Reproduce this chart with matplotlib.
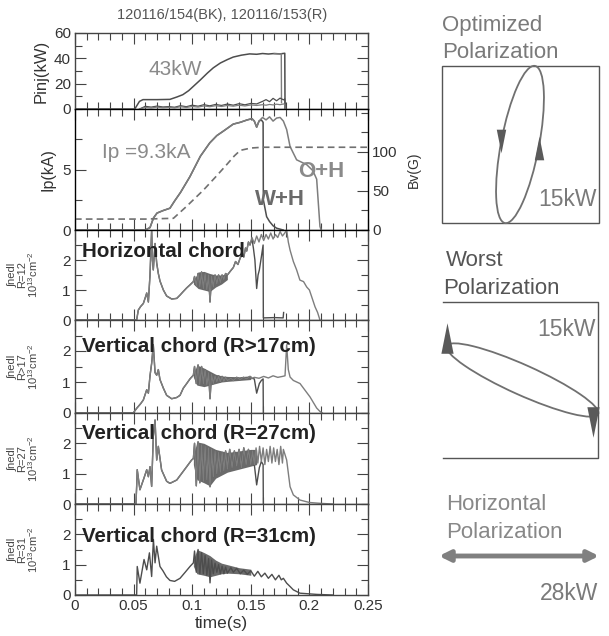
import numpy as np
import matplotlib
matplotlib.use("Agg")
import matplotlib.pyplot as plt
from matplotlib.ticker import MultipleLocator, FuncFormatter
from matplotlib.patches import Ellipse, Rectangle

plt.rcParams['font.family'] = ['Liberation Sans', 'DejaVu Sans']
plt.rcParams['mathtext.fontset'] = 'custom'
plt.rcParams['mathtext.rm'] = 'Liberation Sans'

# ---- data (time in s) ----
# injected power, two shots (BK stops at 0.179, R at 0.176)
pinj_t = [0.0, 0.051, 0.055, 0.058, 0.070, 0.081, 0.087, 0.092, 0.097, 0.101, 0.107,
          0.113, 0.118, 0.124, 0.130, 0.135, 0.142, 0.149, 0.155, 0.160, 0.165, 0.170, 0.175, 0.179, 0.1792]
pinj_bk = [0, 0, 6.0, 7.4, 7.4, 7.6, 9.5, 11.3, 14.5, 17.9, 23.0,
           28.4, 32.5, 36.3, 39.0, 41.0, 42.5, 43.5, 43.2, 43.8, 43.4, 43.8, 43.5, 44.0, 0]
pinj_r_t = [0.170, 0.175, 0.176, 0.1762]
pinj_r = [43.6, 43.4, 43.6, 5.0]
# reflected power (low traces)
refl_t = [0.055, 0.060, 0.065, 0.070, 0.075, 0.080, 0.085, 0.090, 0.095, 0.100, 0.105, 0.110,
          0.115, 0.120, 0.125, 0.130, 0.135, 0.140, 0.145, 0.150, 0.155, 0.160, 0.163, 0.166,
          0.169, 0.172, 0.175, 0.178, 0.179, 0.1795]
refl_bk = [0, 2.1, 1.5, 2.3, 1.6, 1.9, 1.4, 2.6, 1.8, 3.0, 2.2, 3.4,
           2.5, 3.6, 2.8, 3.9, 3.0, 4.2, 3.3, 4.4, 4.0, 6.0, 7.4, 5.8,
           8.4, 6.5, 8.6, 7.2, 8.0, 0]
refl_r = [0, 1.2, 0.8, 1.5, 1.0, 1.3, 0.9, 1.8, 1.2, 2.0, 1.5, 2.4,
          1.8, 2.6, 2.0, 2.8, 2.2, 3.0, 2.4, 3.2, 2.8, 3.4, 3.0, 3.6,
          3.2, 3.8, 3.4, 4.0, 3.5, 0]

# plasma current (kA): common ramp, then W+H and O+H tails
ip_t = [0.0, 0.060, 0.064, 0.067, 0.070, 0.075, 0.081, 0.085, 0.090, 0.098, 0.107, 0.115,
        0.121, 0.127, 0.135, 0.141, 0.147, 0.151, 0.153, 0.155, 0.157]
ip = [0, 0, 0.2, 1.0, 1.4, 1.6, 1.8, 2.4, 3.1, 4.4, 6.1, 7.2,
      7.8, 8.2, 8.75, 8.9, 9.1, 9.2, 9.0, 8.5, 9.0]
ip_wh_t = [0.159, 0.1605, 0.1607, 0.1635, 0.166, 0.169, 0.172, 0.1776]
ip_wh = [9.1, 8.9, 2.5, 1.1, 0.7, 0.35, 0.15, 0]
ip_oh_t = [0.160, 0.163, 0.166, 0.169, 0.172, 0.175, 0.1778, 0.1806, 0.1835, 0.1891,
           0.1977, 0.2030, 0.2062, 0.2090, 0.2100]
ip_oh = [9.3, 9.1, 9.35, 9.0, 9.25, 9.3, 9.0, 8.3, 6.9, 5.8,
         5.4, 4.9, 4.2, 0.3, 0]
# vertical field (G)
bv_t = [0.0, 0.060, 0.084, 0.095, 0.1095, 0.120, 0.129, 0.136, 0.141, 0.150, 0.160, 0.250]
bv = [14, 14, 15, 30, 51, 68, 83, 95, 102, 105, 106, 106]

# line densities (10^13 cm^-2); oscillating stretch sampled every 1.5 ms
osc_t = [0.1020, 0.1035, 0.1050, 0.1065, 0.1080, 0.1095, 0.1110, 0.1125, 0.1140, 0.1152,
         0.1165, 0.1180, 0.1195, 0.1210, 0.1225, 0.1240, 0.1255, 0.1270, 0.1285, 0.1300]

h_t = [0.0, 0.0526, 0.054, 0.056, 0.0583, 0.0600, 0.0612, 0.0626, 0.0640, 0.0654, 0.0661,
       0.0668, 0.0683, 0.0697, 0.0711, 0.0725, 0.0754, 0.0782, 0.0825, 0.0868, 0.0896,
       0.0924, 0.0953, 0.0981, 0.1010] + osc_t + [
       0.1330, 0.1351, 0.1370, 0.1390, 0.1408, 0.1425, 0.1440, 0.1455, 0.1465, 0.1480, 0.1493]
h = [0, 0, 0.33, 0.45, 0.55, 0.75, 0.9, 0.6, 1.5, 3.0, 2.0,
     1.67, 2.55, 1.9, 1.55, 1.3, 1.0, 0.8, 0.7, 0.72, 0.83,
     0.95, 1.07, 1.17, 1.28] + [
     1.45, 1.15, 1.55, 1.1, 1.6, 1.05, 1.55, 1.0, 1.5, 0.6,
     1.45, 1.1, 1.5, 1.2, 1.5, 1.25, 1.5, 1.35, 1.55, 1.5] + [
     1.65, 1.75, 1.95, 1.85, 2.05, 2.2, 2.1, 2.4, 2.3, 2.6, 2.5]
h_wh_t = [0.1510, 0.1522, 0.1535, 0.1550, 0.1562, 0.1573, 0.1590, 0.1605, 0.1607, 0.170, 0.1776, 0.1780]
h_wh = [2.7, 2.4, 2.0, 1.05, 1.5, 1.67, 2.1, 2.5, 0.07, 0.08, 0.07, 0.25]
h_oh_t = [0.1510, 0.1530, 0.1550, 0.1570, 0.1590, 0.1610, 0.1630, 0.1650, 0.1670, 0.1690,
          0.1710, 0.1730, 0.1750, 0.1770, 0.1790, 0.1806, 0.1820, 0.1835, 0.1863, 0.1891,
          0.1919, 0.1950, 0.1977, 0.2000, 0.2019, 0.2048, 0.2070, 0.2090]
h_oh = [2.75, 2.55, 2.8, 2.6, 2.85, 2.65, 2.85, 2.7, 2.9, 2.7,
        2.85, 2.75, 2.95, 2.8, 2.9, 3.0, 2.6, 2.33, 1.95, 1.67,
        1.33, 1.28, 1.1, 1.0, 0.78, 0.44, 0.25, 0]
# envelope of the dense fluctuation band
h_env_t = [0.101, 0.105, 0.110, 0.115, 0.120, 0.125, 0.130]
h_env_hi = [1.3, 1.6, 1.62, 1.55, 1.5, 1.5, 1.55]
h_env_lo = [1.2, 1.05, 1.0, 0.95, 1.1, 1.2, 1.35]

v17_t = [0.0, 0.0497, 0.0526, 0.0560, 0.0583, 0.0612, 0.0626, 0.0640, 0.0654, 0.0668, 0.0683,
         0.0697, 0.0711, 0.0725, 0.0754, 0.0782, 0.0825, 0.0868, 0.0896, 0.0924, 0.0953,
         0.0981, 0.1010] + osc_t + [
         0.1330, 0.1351, 0.1380, 0.1408, 0.1437, 0.1465, 0.1493, 0.1510]
v17 = [0, 0, 0.15, 0.3, 0.42, 0.75, 0.64, 1.2, 1.6, 2.2, 1.3,
       1.22, 1.4, 1.08, 0.8, 0.57, 0.46, 0.5, 0.57, 0.8, 0.95,
       1.1, 1.22] + [
       1.5, 0.95, 1.55, 0.9, 1.5, 0.95, 1.4, 0.9, 1.3, 0.46,
       1.25, 0.95, 1.2, 1.0, 1.2, 1.0, 1.18, 1.02, 1.15, 1.05] + [
       1.12, 1.05, 1.15, 1.08, 1.15, 1.1, 1.18, 1.12]
v17_wh_t = [0.1530, 0.1550, 0.1573, 0.1590, 0.1605, 0.1607]
v17_wh = [1.1, 0.64, 0.95, 1.05, 1.1, 0]
v17_oh_t = [0.1530, 0.1570, 0.1610, 0.1650, 0.1690, 0.1730, 0.1770, 0.1792, 0.1806, 0.1820,
            0.1835, 0.1863, 0.1920, 0.2005, 0.2062, 0.2090, 0.2110]
v17_oh = [1.15, 1.12, 1.18, 1.13, 1.2, 1.15, 1.18, 1.2, 2.2, 1.4,
          1.16, 1.05, 0.95, 0.52, 0.16, 0.05, 0]
v17_env_t = [0.101, 0.104, 0.110, 0.115, 0.120, 0.125, 0.130, 0.140, 0.150]
v17_env_hi = [1.25, 1.55, 1.45, 1.35, 1.25, 1.2, 1.18, 1.17, 1.2]
v17_env_lo = [1.15, 0.9, 0.85, 0.9, 0.95, 1.0, 1.02, 1.05, 1.08]

v27_t = [0.0, 0.0520, 0.0526, 0.0531, 0.0554, 0.0589, 0.0612, 0.0626, 0.0640, 0.0654, 0.0668,
         0.0683, 0.0697, 0.0711, 0.0739, 0.0782, 0.0810, 0.0868, 0.0953, 0.0995, 0.1010] + osc_t + [
         0.1320, 0.1340, 0.1360, 0.1380, 0.1400, 0.1420, 0.1440, 0.1460, 0.1480, 0.1500, 0.1515]
v27 = [0, 0, 0.57, 1.13, 0.47, 0.86, 1.13, 0.9, 1.23, 0.58, 2.22,
       2.77, 1.45, 1.9, 1.12, 0.75, 0.68, 0.79, 1.23, 1.45, 1.5] + [
       2.0, 0.6, 2.05, 0.7, 1.95, 0.75, 1.9, 0.8, 1.85, 0.57,
       1.8, 0.9, 1.75, 1.0, 1.7, 1.05, 1.7, 1.1, 1.75, 1.15] + [
       1.8, 1.2, 1.75, 1.25, 1.8, 1.2, 1.85, 1.3, 1.8, 1.3, 1.75]
v27_wh_t = [0.1530, 0.1550, 0.1573, 0.1590, 0.1605, 0.1607]
v27_wh = [1.3, 0.63, 1.2, 1.4, 1.3, 0]
v27_oh_t = [0.1530, 0.1545, 0.1560, 0.1575, 0.1590, 0.1605, 0.1620, 0.1635, 0.1650, 0.1665,
            0.1680, 0.1695, 0.1710, 0.1725, 0.1740, 0.1755, 0.1770, 0.1778, 0.1806, 0.1835,
            0.1863, 0.1920, 0.2000, 0.2100, 0.2200]
v27_oh = [1.3, 1.85, 1.35, 1.9, 1.4, 1.85, 1.3, 1.8, 1.4, 1.9,
          1.35, 1.85, 1.4, 1.8, 1.3, 1.9, 1.35, 1.8, 1.45, 0.57,
          0.3, 0.13, 0.05, 0.02, 0]
v27_env_t = [0.101, 0.104, 0.110, 0.115, 0.120, 0.130, 0.140, 0.150, 0.155]
v27_env_hi = [1.6, 2.05, 2.0, 1.9, 1.8, 1.7, 1.75, 1.8, 1.8]
v27_env_lo = [1.3, 0.8, 0.7, 0.6, 0.85, 1.05, 1.15, 1.25, 1.3]

v31_t = [0.0, 0.0520, 0.0526, 0.0531, 0.0554, 0.0589, 0.0612, 0.0635, 0.0654, 0.0669, 0.0683,
         0.0697, 0.0725, 0.0750, 0.0780, 0.0810, 0.0850, 0.0896, 0.0940, 0.0981, 0.1010] + osc_t + [
         0.1330, 0.1351, 0.1380, 0.1410, 0.1440, 0.1470, 0.1500, 0.1530, 0.1560, 0.1590,
         0.1620, 0.1650, 0.1680, 0.1710, 0.1740, 0.1760, 0.1778, 0.1806, 0.1835, 0.1863,
         0.1919, 0.2062, 0.2200]
v31 = [0, 0, 0, 0.94, 0.39, 1.17, 0.83, 1.39, 0.61, 1.83, 1.06,
       1.61, 0.94, 0.8, 0.6, 0.48, 0.45, 0.55, 0.75, 0.94, 1.06] + [
       1.45, 0.75, 1.5, 0.7, 1.4, 0.7, 1.3, 0.65, 1.2, 0.4,
       1.15, 0.7, 1.05, 0.75, 1.0, 0.7, 0.95, 0.7, 0.92, 0.72] + [
       0.9, 0.75, 0.88, 0.7, 0.82, 0.68, 0.8, 0.62, 0.78, 0.6,
       0.72, 0.55, 0.68, 0.5, 0.65, 0.5, 0.55, 0.39, 0.28, 0.17,
       0.06, 0.02, 0]
v31_env_t = [0.101, 0.104, 0.110, 0.115, 0.120, 0.125, 0.130, 0.140, 0.150]
v31_env_hi = [1.15, 1.5, 1.4, 1.3, 1.15, 1.05, 1.0, 0.9, 0.85]
v31_env_lo = [0.95, 0.7, 0.65, 0.6, 0.65, 0.7, 0.72, 0.7, 0.65]

# ---- figure ----
W, H = 609, 636
fig = plt.figure(figsize=(W / 100, H / 100), dpi=100)

BK = '#4d4d4d'
RC = '#7d7d7d'
AX = '#444444'
x0, x1 = 75, 368
panels = [(33, 109), (109, 230), (230, 320), (320, 413), (413, 504), (504, 595)]


def make_axes(top, bot):
    return fig.add_axes([x0 / W, 1 - bot / H, (x1 - x0) / W, (bot - top) / H])


def style(ax, last=False, right=True):
    ax.set_xlim(0, 0.25)
    ax.xaxis.set_major_locator(MultipleLocator(0.05))
    ax.xaxis.set_minor_locator(MultipleLocator(0.01))
    ax.tick_params(which='both', direction='in', top=True, bottom=True, left=True,
                   right=right, colors=AX, labelcolor='#333333', labelsize=11, width=0.8, pad=3)
    ax.tick_params(which='major', length=8)
    ax.tick_params(which='minor', length=5)
    ax.tick_params(axis='x', labelbottom=last)
    for s in ax.spines.values():
        s.set_color(AX)
        s.set_linewidth(1.0)


axes = [make_axes(t, b) for t, b in panels]
ax_p, ax_ip, ax_h, ax_17, ax_27, ax_31 = axes

# Pinj
ax_p.plot(pinj_t, pinj_bk, color=BK, lw=1.1)
ax_p.plot(pinj_r_t, pinj_r, color=RC, lw=1.0)
ax_p.plot(refl_t, refl_bk, color=BK, lw=0.9)
ax_p.plot(refl_t, refl_r, color=RC, lw=0.9)
ax_p.set_ylim(0, 60)
ax_p.yaxis.set_major_locator(MultipleLocator(20))
ax_p.yaxis.set_minor_locator(MultipleLocator(10))
style(ax_p)
ax_p.set_ylabel('Pinj(kW)', fontsize=12, color='#333333')
ax_p.yaxis.set_label_coords(-0.089, 0.5)
ax_p.text(0.0853, 30.8, '43kW', fontsize=15, color='#8a8a8a', ha='center', va='center')

# Ip and Bv
ax_ip.plot(ip_t + ip_wh_t, ip + ip_wh, color=BK, lw=1.1)
ax_ip.plot(ip_t + ip_oh_t, ip + ip_oh, color=RC, lw=1.1)
ax_ip.set_ylim(0, 10)
ax_ip.set_yticks([0, 5])
ax_ip.yaxis.set_minor_locator(MultipleLocator(2.5))
style(ax_ip, right=False)
ax_ip.set_ylabel('Ip(kA)', fontsize=11.5, color='#333333')
ax_ip.yaxis.set_label_coords(-0.068, 0.5)
ax_bv = ax_ip.twinx()
ax_bv.plot(bv_t, bv, color='#707070', lw=1.2, ls=(0, (4, 2.5)))
ax_bv.set_ylim(0, 155)
ax_bv.set_yticks([0, 50, 100])
ax_bv.yaxis.set_minor_locator(MultipleLocator(25))
ax_bv.tick_params(which='both', direction='in', colors=AX, labelcolor='#333333',
                  labelsize=11, width=0.8, pad=3)
ax_bv.tick_params(which='major', length=8)
ax_bv.tick_params(which='minor', length=5)
ax_bv.set_ylabel('Bv(G)', fontsize=10, color='#333333')
ax_bv.yaxis.set_label_coords(1.133, 0.5)
ax_ip.text(0.023, 6.4, 'Ip =9.3kA', fontsize=15, color='#8a8a8a', ha='left', va='center')
ax_ip.text(0.1536, 2.5, 'W+H', fontsize=16, color='#6a6a6a', fontweight='bold',
           ha='left', va='center')
ax_ip.text(0.190, 4.8, 'O+H', fontsize=16, color='#8a8a8a', fontweight='bold',
           ha='left', va='center')

# line density panels
chords = [
    (ax_h, [(h_t + h_wh_t, h + h_wh, BK), (h_t + h_oh_t, h + h_oh, RC)],
     (h_env_t, h_env_hi, h_env_lo), 'Horizontal chord', 2.28, 'R=12'),
    (ax_17, [(v17_t + v17_wh_t, v17 + v17_wh, BK), (v17_t + v17_oh_t, v17 + v17_oh, RC)],
     (v17_env_t, v17_env_hi, v17_env_lo), 'Vertical chord (R>17cm)', 2.14, 'R>17'),
    (ax_27, [(v27_t + v27_wh_t, v27 + v27_wh, BK), (v27_t + v27_oh_t, v27 + v27_oh, RC)],
     (v27_env_t, v27_env_hi, v27_env_lo), 'Vertical chord (R=27cm)', 2.34, 'R=27'),
    (ax_31, [(v31_t, v31, BK)],
     (v31_env_t, v31_env_hi, v31_env_lo), 'Vertical chord (R=31cm)', 1.92, 'R=31'),
]
for ax, series, env, title, ty, rlab in chords:
    ax.fill_between(env[0], env[1], env[2], color='#5a5a5a', lw=0, alpha=0.9)
    for tt, vv, col in series:
        ax.plot(tt, vv, color=col, lw=1.0)
    ax.set_ylim(0, 3)
    ax.set_yticks([0, 1, 2])
    ax.yaxis.set_minor_locator(MultipleLocator(0.5))
    style(ax, last=(ax is ax_31))
    ax.text(0.006, ty, title, fontsize=14.8, fontweight='bold', color='#222222',
            ha='left', va='center')
    ax.set_ylabel('\u222bnedl\n' + rlab + '\n10$^{13}$cm$^{-2}$', fontsize=8,
                  color='#444444', linespacing=0.95)
    ax.yaxis.set_label_coords(-0.119, 0.5)

ax_31.xaxis.set_major_formatter(FuncFormatter(lambda v, p: f'{v:g}'))
ax_31.set_xlabel('time(s)', fontsize=12.5, color='#333333', labelpad=2)

# header
fig.text(222 / W, 1 - 15 / H, '120116/154(BK), 120116/153(R)', fontsize=10.5,
         color='#555555', ha='center', va='center')

# ---- polarization sketches (pixel layout on an overlay) ----
ov = fig.add_axes([0, 0, 1, 1])
ov.set_xlim(0, W)
ov.set_ylim(H, 0)
ov.axis('off')
ov.patch.set_alpha(0)

LG = '#7a7a7a'
ov.text(442, 25, 'Optimized', fontsize=16, color=LG, ha='left', va='center')
ov.text(442, 53, 'Polarization', fontsize=16, color=LG, ha='left', va='center')
ov.add_patch(Rectangle((442, 66), 157, 157, fill=False, ec='#555555', lw=1.0))
e1 = dict(c=(520, 144.5), a=80, b=19, ang=-79.2)
ov.add_patch(Ellipse(e1['c'], 2 * e1['a'], 2 * e1['b'], angle=e1['ang'],
                     fill=False, ec='#707070', lw=1.3))
down_tri = [(-0.4, 1), (0.4, 1), (0, -1), (-0.4, 1)]
up_tri = [(-0.4, -1), (0.4, -1), (0, 1), (-0.4, -1)]
u = np.array([np.cos(np.radians(e1['ang'])), np.sin(np.radians(e1['ang']))])
v = np.array([-u[1], u[0]])
p_left = np.array(e1['c']) - e1['b'] * v
p_right = np.array(e1['c']) + e1['b'] * v
ov.plot(*p_left, marker=down_tri, ms=17, color='#5a5a5a', mec='none')
ov.plot(*p_right, marker=up_tri, ms=17, color='#5a5a5a', mec='none')
ov.text(597, 200, '15kW', fontsize=16.5, color=LG, ha='right', va='center')

WC = '#555555'
ov.text(446, 260, 'Worst', fontsize=16, color=WC, ha='left', va='center')
ov.text(443, 288, 'Polarization', fontsize=16, color=WC, ha='left', va='center')
ov.plot([443, 598, 598, 443], [302, 302, 458, 458], color='#555555', lw=1.0)
e2 = dict(c=(522.5, 380), a=83, b=15, ang=24.2)
ov.add_patch(Ellipse(e2['c'], 2 * e2['a'], 2 * e2['b'], angle=e2['ang'],
                     fill=False, ec='#707070', lw=1.3))
u2 = np.array([np.cos(np.radians(e2['ang'])), np.sin(np.radians(e2['ang']))])
tl = np.array(e2['c']) - e2['a'] * u2
tr = np.array(e2['c']) + e2['a'] * u2
ov.plot(tl[0], tl[1] - 8, marker=up_tri, ms=22, color='#5a5a5a', mec='none')
ov.plot(tr[0] - 5, tr[1] + 8, marker=down_tri, ms=22, color='#5a5a5a', mec='none')
ov.text(596, 329, '15kW', fontsize=16.5, color=LG, ha='right', va='center')

HC = '#888888'
ov.text(446, 504, 'Horizontal', fontsize=16, color=HC, ha='left', va='center')
ov.text(446, 533, 'Polarization', fontsize=16, color=HC, ha='left', va='center')
ov.annotate('', xy=(599, 556), xytext=(439, 556),
            arrowprops=dict(arrowstyle='<|-|>', color='#808080', lw=3.5,
                            mutation_scale=16, shrinkA=0, shrinkB=0))
ov.text(598, 593, '28kW', fontsize=16.5, color=LG, ha='right', va='center')

fig.savefig('out.png', dpi=100)
